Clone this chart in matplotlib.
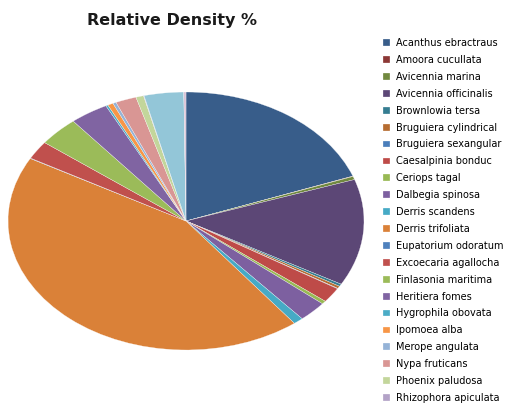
"""Relative Density % pie chart (elliptical, Excel style)."""
import matplotlib
matplotlib.use("Agg")
import matplotlib.pyplot as plt

species = [
    "Acanthus ebractraus", "Amoora cucullata", "Avicennia marina",
    "Avicennia officinalis", "Brownlowia tersa", "Bruguiera cylindrical",
    "Bruguiera sexangular", "Caesalpinia bonduc", "Ceriops tagal",
    "Dalbegia spinosa", "Derris scandens", "Derris trifoliata",
    "Eupatorium odoratum", "Excoecaria agallocha", "Finlasonia maritima",
    "Heritiera fomes", "Hygrophila obovata", "Ipomoea alba",
    "Merope angulata", "Nypa fruticans", "Phoenix paludosa",
    "Rhizophora apiculata", "Rhizophora mucronata", "Sonneratia apetala",
]
density = [
    19.4, 0.05, 0.4,
    13.4, 0.3, 0.3,
    0.05, 1.9, 0.4,
    2.6, 0.9, 43.6,
    0.05, 2.3, 3.7,
    3.5, 0.2, 0.5,
    0.3, 1.9, 0.7,
    0.05, 3.6, 0.2,
]
colors = [
    "#385D8A", "#8C3836", "#71893F", "#5C4776", "#357D91", "#B66D31",
    "#4A7EBB", "#BE4B48", "#98B954", "#7D60A0", "#46AAC5", "#DA8138",
    "#4F81BD", "#C0504D", "#9BBB59", "#8064A2", "#4BACC6", "#F79646",
    "#95B3D7", "#D99694", "#C3D69B", "#B3A2C7", "#93C6D8", "#D9C3D6",
]
N_LEGEND = 22  # legend runs off the bottom of the picture

W, H = 509, 405
fig = plt.figure(figsize=(W / 100, H / 100), dpi=100)

# pie is stretched into an ellipse: axes box sets the shape
ax = fig.add_axes([8 / W, 1 - 350 / H, 356 / W, 258 / H])
wedges, _ = ax.pie(
    density, colors=colors, startangle=90, counterclock=False,
    wedgeprops=dict(edgecolor="white", linewidth=0.2),
)
ax.set_aspect("auto")
ax.set_xlim(-1, 1)
ax.set_ylim(-1, 1)
ax.axis("off")

fig.text(172 / W, 1 - 20 / H, "Relative Density %", ha="center", va="center",
         fontsize=11.5, fontweight="bold", color="#1a1a1a")

fig.legend(
    wedges[:N_LEGEND], species[:N_LEGEND],
    loc="upper left", bbox_to_anchor=(383 / W, 1 - 38 / H),
    frameon=False, fontsize=7, handlelength=0.7, handleheight=0.7,
    handletextpad=0.6, labelspacing=0.71, borderpad=0, borderaxespad=0,
)

fig.savefig("out.png", dpi=100)
